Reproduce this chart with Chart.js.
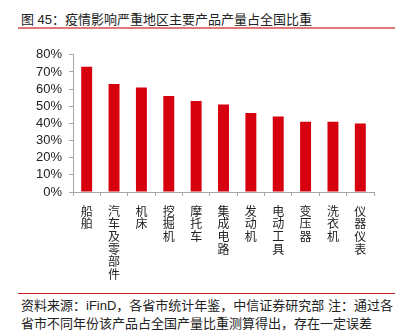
<!DOCTYPE html>
<html>
<head>
<meta charset="utf-8">
<script src="https://cdn.jsdelivr.net/npm/chart.js@4"></script>
<style>
  html, body { margin: 0; padding: 0; background: #fff; }
  body { width: 404px; height: 334px; position: relative; overflow: hidden;
         font-family: "Liberation Sans", "Noto Sans CJK SC", sans-serif; color: #222; }
  .title { position: absolute; left: 21px; top: 9px; font-size: 13px; white-space: nowrap; }
  .rule-top { position: absolute; left: 18px; width: 377px; top: 27px; height: 2px; background: #e07878; }
  .rule-bottom { position: absolute; left: 18px; width: 377px; top: 293px; height: 1px; background: #c8242a; }
  .source { position: absolute; left: 21px; top: 297px; font-size: 13px; line-height: 18px; white-space: nowrap; }
  #chart { position: absolute; left: 0; top: 40px; }
</style>
</head>
<body>
<div class="title">图 45：疫情影响严重地区主要产品产量占全国比重</div>
<div class="rule-top"></div>
<canvas id="chart" width="404" height="250"></canvas>
<div class="rule-bottom"></div>
<div class="source">
  <div>资料来源：iFinD，各省市统计年鉴，中信证券研究部 注：通过各</div>
  <div>省市不同年份该产品占全国产量比重测算得出，存在一定误差</div>
</div>
<script>
// 产品名称
const categories = ['船舶', '汽车及零部件', '机床', '挖掘机', '摩托车', '集成电路',
  '发动机', '电动工具', '变压器', '洗衣机', '仪器仪表'];
// 占全国比重 (%)
const shares = [73, 63, 61, 56, 53, 51, 46, 44, 41, 41, 40];
// y 轴刻度
const yTicks = [0, 10, 20, 30, 40, 50, 60, 70, 80];

const axisColor = '#a6a6a6';
const barColor = '#d7000f';

new Chart(document.getElementById('chart').getContext('2d'), {
  type: 'bar',
  data: {
    // 竖排标签：每个字一行
    labels: categories.map((c) => c.split('')),
    datasets: [{
      data: shares,
      backgroundColor: barColor,
      borderWidth: 0,
      barPercentage: 0.4,
      categoryPercentage: 1,
    }],
  },
  options: {
    responsive: false,
    animation: false,
    devicePixelRatio: 1,
    layout: { padding: { top: 12, right: 30, left: 0, bottom: 0 } },
    plugins: { legend: { display: false }, tooltip: { enabled: false } },
    scales: {
      x: {
        grid: { display: true, drawOnChartArea: false, drawTicks: true, tickLength: 4,
                color: axisColor, offset: true },
        border: { display: true, color: axisColor },
        ticks: { color: '#222', autoSkip: false, maxRotation: 0, minRotation: 0, padding: 9,
                 font: { family: '"Noto Sans CJK SC", sans-serif', size: 12, lineHeight: 1.05 } },
        afterFit: (s) => { s.height = 98; },
      },
      y: {
        min: yTicks[0],
        max: yTicks[yTicks.length - 1],
        afterBuildTicks: (s) => { s.ticks = yTicks.map((v) => ({ value: v })); },
        grid: { display: true, drawOnChartArea: false, drawTicks: true, tickLength: 4,
                color: axisColor },
        border: { display: true, color: axisColor },
        ticks: { color: '#222', padding: 7, autoSkip: false, callback: (v) => v + '%',
                 font: { family: '"Liberation Sans", Arial, sans-serif', size: 13 } },
        afterFit: (s) => { s.width = 73; },
      },
    },
  },
});
</script>
</body>
</html>
